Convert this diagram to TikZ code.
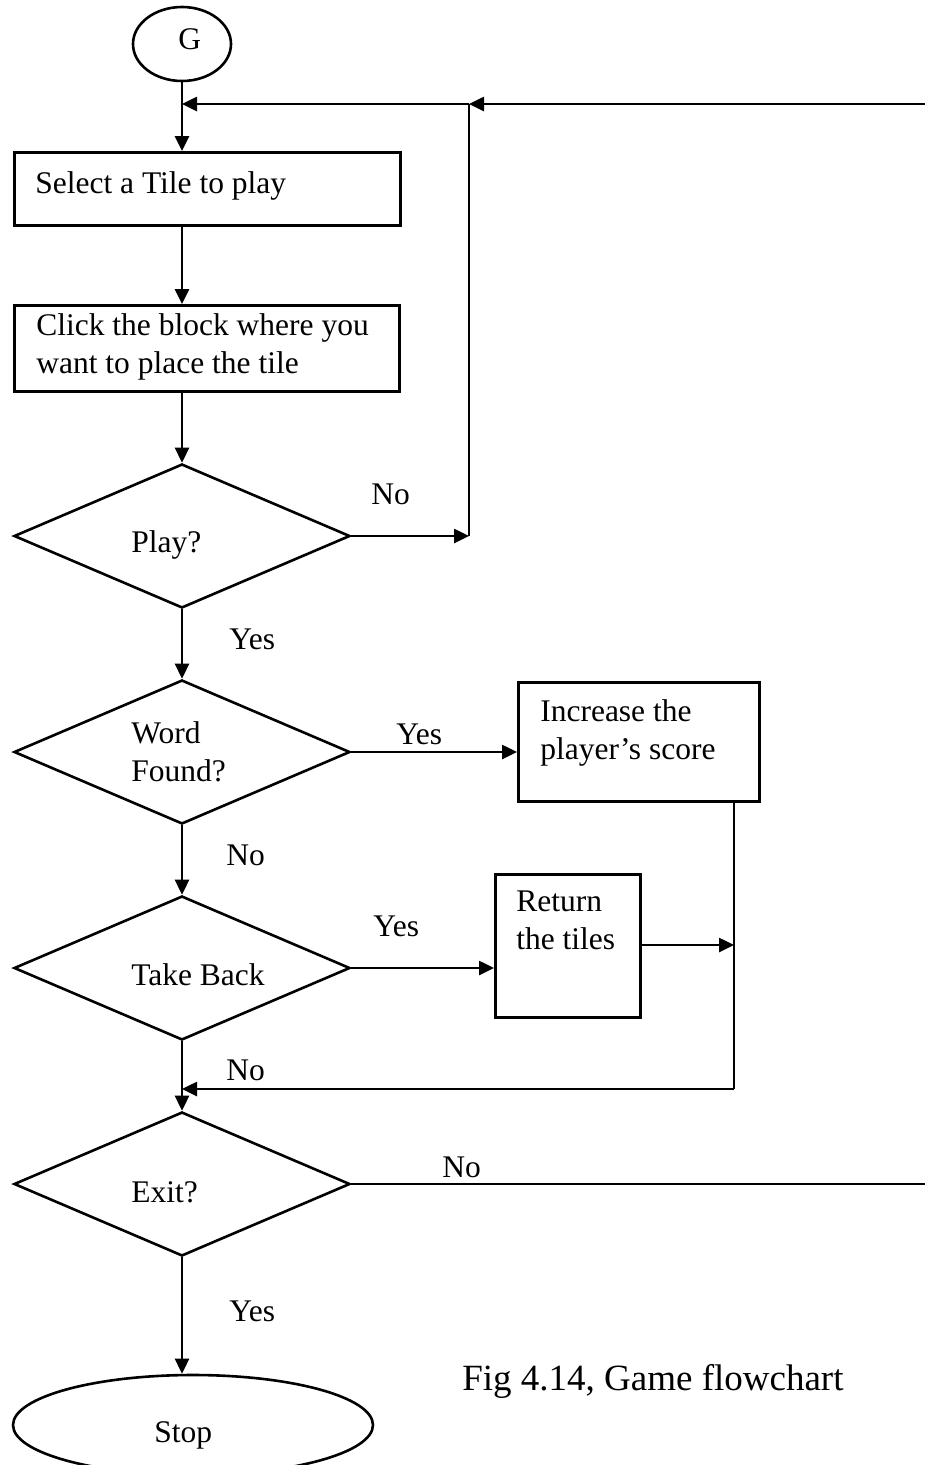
\documentclass[tikz,border=0pt]{standalone}
\usepackage{fontspec}
\setmainfont{Liberation Serif}
\usetikzlibrary{shapes.geometric,arrows.meta}
\begin{document}
\begin{tikzpicture}[x=1pt,y=-1pt,
  line width=2.6pt,
  lbl/.style={anchor=base west,inner sep=0pt,font=\fontsize{31.5}{38}\selectfont,align=left},
  boxnode/.style={draw,rectangle,inner sep=0pt,anchor=north west},
  dia/.style={draw,diamond,inner sep=0pt,minimum width=336pt,minimum height=144pt},
  ell/.style={draw,ellipse,inner sep=0pt},
  arr/.style={-{Triangle[length=15pt,width=14pt]}},
]
\useasboundingbox (0,0) rectangle (925,1465);
\clip (0,0) rectangle (925,1465);
% shapes
\node[ell,minimum width=98pt,minimum height=74pt] (G) at (182,44) {};
\node[boxnode,minimum width=386pt,minimum height=73pt] (sel) at (13,151) {};
\node[boxnode,minimum width=385pt,minimum height=86pt] (clk) at (13,304) {};
\node[dia] (play) at (182,536) {};
\node[dia] (word) at (182,752) {};
\node[dia] (take) at (182,968) {};
\node[dia] (exit) at (182,1184) {};
\node[boxnode,minimum width=241pt,minimum height=119pt] (inc) at (517,681) {};
\node[boxnode,minimum width=145pt,minimum height=143pt] (ret) at (494,873) {};
\node[ell,minimum width=360pt,minimum height=100pt] (stop) at (193,1425) {};
% texts (multi-line nodes: base = last line)
\node[lbl] (tG) at (177,49) {G};
\node[lbl] (tsel) at (34,193) {Select a Tile to play};
\node[lbl] (tclk) at (35,373) {Click the block where you\\want to place the tile};
\node[lbl] (tplay) at (130,552) {Play?};
\node[lbl] (tword) at (130,781) {Word\\Found?};
\node[lbl] (ttake) at (130,985) {Take Back};
\node[lbl] (texit) at (130,1202) {Exit?};
\node[lbl] (tinc) at (539,759) {Increase the\\player’s score};
\node[lbl] (tret) at (515,949) {Return\\the tiles};
\node[lbl] (tstop) at (153,1442) {Stop};
\node[lbl] (no1) at (370,504) {No};
\node[lbl] (yes1) at (228,649) {Yes};
\node[lbl] (yes2) at (395,744) {Yes};
\node[lbl] (no2) at (225,865) {No};
\node[lbl] (yes3) at (372,936) {Yes};
\node[lbl] (no3) at (225,1080) {No};
\node[lbl] (no4) at (441,1177) {No};
\node[lbl] (yes4) at (228,1321) {Yes};
\node[lbl,font=\fontsize{37}{44}\selectfont] (cap) at (461,1390) {Fig 4.14, Game flowchart};
% coordinates
\coordinate (j1) at (182,104);
\coordinate (j2) at (469,104);
\coordinate (rt) at (925,104);
\coordinate (rb) at (925,1184);
\coordinate (j3) at (469,536);
\coordinate (j4) at (734,945);
\coordinate (j5) at (734,1089);
\coordinate (j6) at (182,1089);
% connectors
\draw[arr] (G.south) -- (G.south |- sel.north);
\draw[arr] (rt) -- (j2);
\draw[arr] (j2) -- (j1);
\draw (j3) -- (j2);
\draw[arr] (play.east) -- (j3);
\draw[arr] (G.south |- sel.south) -- (G.south |- clk.north);
\draw[arr] (G.south |- clk.south) -- (play.north);
\draw[arr] (play.south) -- (word.north);
\draw[arr] (word.east) -- (word.east -| inc.west);
\draw[arr] (word.south) -- (take.north);
\draw[arr] (take.east) -- (take.east -| ret.west);
\draw[arr] (ret.east |- j4) -- (j4);
\draw (inc.south -| j4) -- (j5);
\draw[arr] (j5) -- (j6);
\draw[arr] (take.south) -- (exit.north);
\draw (exit.east) -- (rb);
\draw[arr] (exit.south) -- (exit.south |- stop.north);
\end{tikzpicture}
\end{document}
